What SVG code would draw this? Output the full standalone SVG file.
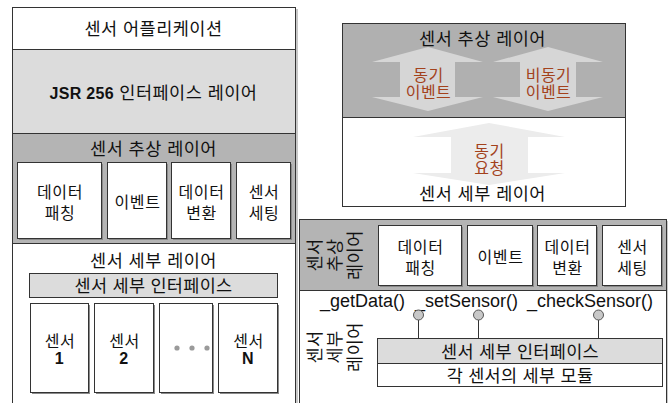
<svg xmlns="http://www.w3.org/2000/svg" width="672" height="403" viewBox="0 0 672 403">
<style>
text{font-family:"Liberation Sans","Noto Sans CJK KR",sans-serif;fill:#111;text-anchor:middle}
.k16{font-size:17.5px;letter-spacing:0.5px}
.k15{font-size:16px;letter-spacing:0.6px}
.k17{font-size:17.5px;letter-spacing:0.3px}
.br{fill:#a3421c;font-size:16px;letter-spacing:0.5px}
.box{fill:#fff;stroke:#333;stroke-width:1}
.sh{fill:#8a8a8a}
.ln{stroke:#333;stroke-width:1;fill:none}
.api{font-size:18px;text-anchor:start}
</style>
<rect width="672" height="403" fill="#fff"/>

<g id="left-panel">
  <rect x="14" y="9" width="284" height="400" fill="#c8c8c8"/>
  <rect x="12.5" y="7.5" width="283" height="400" fill="#fff" stroke="#333"/>
  <g id="app-layer">
    <rect x="12.5" y="7.5" width="283" height="42" fill="#fff" stroke="#333"/>
    <text class="k16" x="153.5" y="34.5">센서 어플리케이션</text>
  </g>
  <g id="jsr-layer">
    <rect x="12.5" y="49.5" width="283" height="84" fill="#dcdcdc" stroke="#333"/>
    <text class="k16" x="153.5" y="98.5"><tspan font-weight="bold" font-size="16px" letter-spacing="0.3px">JSR 256</tspan> 인터페이스 레이어</text>
  </g>
  <g id="abstract-layer">
    <rect x="12.5" y="133.5" width="283" height="110" fill="#b4b4b4" stroke="#333"/>
    <text class="k16" x="153.5" y="154.5">센서 추상 레이어</text>
    <g id="l-fetch"><rect class="sh" x="19" y="164" width="84" height="76"/><rect class="box" x="17.5" y="162.5" width="84" height="76"/><text class="k15" x="60" y="198">데이터</text><text class="k15" x="60" y="218.5">패칭</text></g>
    <g id="l-event"><rect class="sh" x="109" y="164" width="59" height="76"/><rect class="box" x="107.5" y="162.5" width="59" height="76"/><text class="k15" x="137.5" y="208">이벤트</text></g>
    <g id="l-convert"><rect class="sh" x="173" y="164" width="59" height="76"/><rect class="box" x="171.5" y="162.5" width="59" height="76"/><text class="k15" x="201.5" y="198">데이터</text><text class="k15" x="201.5" y="218.5">변환</text></g>
    <g id="l-setting"><rect class="sh" x="238" y="164" width="54" height="76"/><rect class="box" x="236.5" y="162.5" width="54" height="76"/><text class="k15" x="264" y="198">센서</text><text class="k15" x="264" y="218.5">세팅</text></g>
  </g>
  <g id="detail-layer">
    <text class="k16" x="153.5" y="266.5">센서 세부 레이어</text>
    <g id="l-interface"><rect x="29.5" y="273.5" width="248" height="24" fill="#dcdcdc" stroke="#333"/><text class="k17" x="153.5" y="291.5">센서 세부 인터페이스</text></g>
    <g id="sensor1"><rect class="sh" x="32" y="305" width="58" height="89"/><rect class="box" x="30.5" y="303.5" width="58" height="89"/><text class="k15" x="60" y="347">센서</text><text class="k15" x="59.5" y="364" font-weight="bold" letter-spacing="0">1</text></g>
    <g id="sensor2"><rect class="sh" x="96" y="305" width="59" height="89"/><rect class="box" x="94.5" y="303.5" width="59" height="89"/><text class="k15" x="124.5" y="347">센서</text><text class="k15" x="124" y="364" font-weight="bold" letter-spacing="0">2</text></g>
    <g id="sensor-etc"><rect class="sh" x="161" y="305" width="53" height="89"/><rect class="box" x="159.5" y="303.5" width="53" height="89"/><circle cx="177" cy="348" r="2.6" fill="#9a9a9a"/><circle cx="192" cy="348" r="2.6" fill="#9a9a9a"/><circle cx="207" cy="348" r="2.6" fill="#9a9a9a"/></g>
    <g id="sensorN"><rect class="sh" x="220" y="305" width="59" height="89"/><rect class="box" x="218.5" y="303.5" width="59" height="89"/><text class="k15" x="248.5" y="347">센서</text><text class="k15" x="248" y="364" font-weight="bold" letter-spacing="0">N</text></g>
  </g>
</g>

<g id="right-top-panel">
  <rect x="342.5" y="23.5" width="283" height="183" fill="#fff" stroke="#333"/>
  <rect x="342.5" y="23.5" width="283" height="94" fill="#b0b0b0" stroke="#333"/>
  <text class="k16" x="482.5" y="44.5">센서 추상 레이어</text>
  <g id="sync-event">
    <polygon points="428,47 483,62 455,62 455,97 483,97 428,111 372,97 400,97 400,62 372,62" fill="#d6d6d6"/>
    <text class="br" x="428.5" y="80.5">동기</text><text class="br" x="428.5" y="97.5">이벤트</text>
  </g>
  <g id="async-event">
    <polygon points="548,47 603,62 576,62 576,97 603,97 548,111 493,97 520,97 520,62 493,62" fill="#d6d6d6"/>
    <text class="br" x="548.5" y="80.5">비동기</text><text class="br" x="548.5" y="97.5">이벤트</text>
  </g>
  <g id="sync-request">
    <polygon points="489,123 565,137 528,137 528,173 565,173 489,185 413,173 451,173 451,137 413,137" fill="#ececec"/>
    <text class="br" x="489.5" y="156.5">동기</text><text class="br" x="489.5" y="173.5">요청</text>
  </g>
  <text class="k16" x="482.5" y="199.5">센서 세부 레이어</text>
</g>

<g id="right-bottom-panel">
  <rect x="301" y="221" width="367" height="190" fill="#c8c8c8"/>
  <rect x="299.5" y="219.5" width="367" height="190" fill="#fff" stroke="#333"/>
  <rect x="299.5" y="219.5" width="367" height="71" fill="#b4b4b4" stroke="#333"/>
  <text class="k16" transform="translate(314,255) rotate(-90)" x="0" y="6.5">센서</text>
  <text class="k16" transform="translate(334,255) rotate(-90)" x="0" y="6.5">추상</text>
  <text class="k16" transform="translate(354,255) rotate(-90)" x="0" y="6.5">레이어</text>
  <g id="r-fetch"><rect class="sh" x="380" y="227" width="83" height="60"/><rect class="box" x="378.5" y="225.5" width="83" height="60"/><text class="k15" x="420.5" y="253">데이터</text><text class="k15" x="420.5" y="274">패칭</text></g>
  <g id="r-event"><rect class="sh" x="469" y="227" width="65" height="60"/><rect class="box" x="467.5" y="225.5" width="65" height="60"/><text class="k15" x="500.5" y="263">이벤트</text></g>
  <g id="r-convert"><rect class="sh" x="539" y="227" width="59" height="60"/><rect class="box" x="537.5" y="225.5" width="59" height="60"/><text class="k15" x="567.5" y="253">데이터</text><text class="k15" x="567.5" y="274">변환</text></g>
  <g id="r-setting"><rect class="sh" x="604" y="227" width="59" height="60"/><rect class="box" x="602.5" y="225.5" width="59" height="60"/><text class="k15" x="632.5" y="253">센서</text><text class="k15" x="632.5" y="274">세팅</text></g>
  <text class="api" x="320" y="307">_getData()</text>
  <text class="api" x="415" y="307">_setSensor()</text>
  <text class="api" x="527" y="307">_checkSensor()</text>
  <text class="k16" transform="translate(314,347) rotate(-90)" x="0" y="6.5">센서</text>
  <text class="k16" transform="translate(334,347) rotate(-90)" x="0" y="6.5">세부</text>
  <text class="k16" transform="translate(354,347) rotate(-90)" x="0" y="6.5">레이어</text>
  <g id="r-interface"><rect x="377.5" y="338.5" width="285" height="25" fill="#dcdcdc" stroke="#333"/><text class="k17" x="520" y="357.5">센서 세부 인터페이스</text></g>
  <g id="r-module"><rect x="377.5" y="363.5" width="285" height="23" fill="#fff" stroke="#333"/><text class="k17" x="520" y="381.5">각 센서의 세부 모듈</text></g>
</g>

<g id="connectors">
  <line class="ln" x1="418.5" y1="320" x2="418.5" y2="339"/>
  <line class="ln" x1="478.5" y1="320" x2="478.5" y2="339"/>
  <line class="ln" x1="598.5" y1="320" x2="598.5" y2="339"/>
  <circle cx="418.5" cy="315" r="5" fill="#c8c8c8" stroke="#555"/>
  <circle cx="478.5" cy="315" r="5" fill="#c8c8c8" stroke="#555"/>
  <circle cx="598.5" cy="315" r="5" fill="#c8c8c8" stroke="#555"/>
</g>
</svg>
